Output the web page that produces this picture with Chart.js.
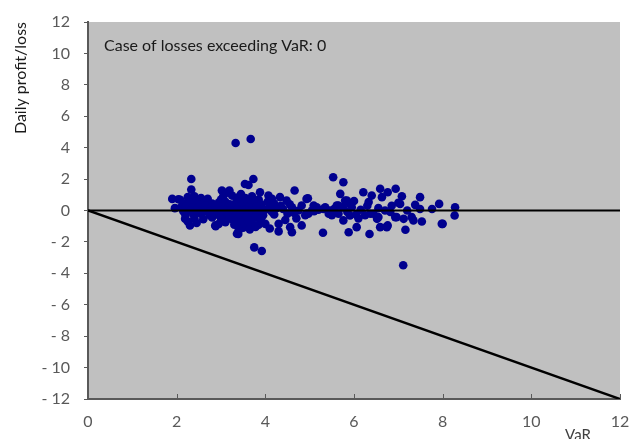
<!DOCTYPE html>
<html>
<head>
<meta charset="utf-8">
<script src="https://cdn.jsdelivr.net/npm/chart.js@4.4.1/dist/chart.umd.min.js"></script>
<style>
  html, body { margin: 0; padding: 0; background: #fff; }
  #wrap { width: 635px; height: 439px; }
</style>
</head>
<body>
<div id="wrap"><canvas id="varChart"></canvas></div>
<script>
// daily VaR (x) and daily profit/loss (y)
const varValues = [
  3.33, 3.67, 3.75, 3.92, 7.11,
  2.33, 2.33, 3.54, 3.62, 3.73, 5.53, 5.76, 4.66, 1.90, 2.08, 1.96, 2.04,
  2.19, 2.30, 2.87, 3.36, 3.02, 3.19, 3.13, 3.88, 4.07, 4.33, 4.48, 4.96, 4.82, 4.97,
  4.00, 4.30, 4.56, 4.82, 4.30, 4.60, 3.39,
  5.69, 6.21, 6.40, 6.59, 6.63, 5.80, 5.91, 5.09, 5.35, 5.61, 6.44, 6.52, 5.76, 6.06,
  6.59, 5.30, 5.88, 6.35, 6.74,
  6.76, 6.94, 7.08, 7.49, 7.00, 7.38, 7.49, 7.76, 7.92, 8.28, 8.27, 6.82, 6.93, 7.12,
  7.30, 7.34, 7.53, 8.00, 6.76, 7.16,
  4.93, 4.93, 5.05, 5.16, 5.31, 5.43, 5.65, 5.84, 5.95, 5.91, 6.33, 6.37, 6.55, 7.04,
  6.96, 7.98, 6.74,
  5.20, 5.45, 5.55, 5.65, 5.75, 5.85, 6.05, 6.15, 6.25, 6.30, 6.55, 6.70, 6.85, 7.20, 5.10, 5.50, 6.00, 6.10,
  4.40, 4.50, 4.60, 4.70, 4.75, 4.90, 4.55, 4.45, 4.35, 4.65,
  2.25, 2.40, 2.55, 2.70, 3.05, 3.25, 3.40, 3.55, 3.70, 3.85, 4.15, 3.00, 3.45, 2.65,
  2.15, 2.30, 2.45, 2.60, 2.80, 2.95, 3.10, 3.20, 3.35, 3.50, 3.60, 3.75, 3.90, 4.05, 4.20, 2.50, 3.30, 3.65,
  2.10, 2.20, 2.35, 2.50, 2.65, 2.75, 2.90, 3.00, 3.15, 3.25, 3.40, 3.50, 3.58, 3.70, 3.80, 3.95, 4.10, 4.25, 2.85, 3.45,
  2.15, 2.30, 2.45, 2.60, 2.70, 2.85, 2.95, 3.05, 3.20, 3.30, 3.42, 3.55, 3.62, 3.72, 3.85, 4.00, 4.15, 3.38, 3.48,
  2.20, 2.38, 2.55, 2.75, 2.90, 3.08, 3.22, 3.35, 3.50, 3.60, 3.68, 3.80, 3.95, 4.20, 3.15, 3.45,
  2.40, 2.60, 2.80, 3.00, 3.25, 3.40, 3.52, 3.65, 3.78, 3.90, 3.30, 3.58,
  2.45, 2.95, 3.10, 3.30, 3.45, 3.55, 3.70, 3.62, 3.85, 2.25,
  3.50, 3.65, 3.78, 2.88, 4.10, 3.40
];
const pnlValues = [
  4.30, 4.55, -2.35, -2.58, -3.49,
  2.01, 1.33, 1.69, 1.62, 2.01, 2.12, 1.80, 1.27, 0.74, 0.68, 0.15, 0.72,
  -0.53, -0.95, -0.95, -1.48, 1.27, 1.27, 1.14, 1.16, 0.95, 0.85, 0.63, 0.78, 0.32, -0.21,
  -0.85, -0.85, -1.06, -0.95, -1.33, -1.38, -1.50,
  1.06, 1.16, 0.95, 1.38, 0.85, 0.63, 0.42, 0.32, 0.21, 0.32, -0.21, -0.53, -0.63, -1.06,
  -1.06, -1.42, -1.38, -1.50, -1.06,
  1.16, 1.38, 0.91, 0.85, 0.49, 0.36, 0.10, 0.10, 0.42, 0.21, -0.32, -0.10, -0.42, -0.53,
  -0.42, -0.63, -0.70, -0.85, -0.95, -1.23,
  0.74, -0.19, 0.00, 0.21, 0.10, -0.21, 0.32, 0.63, 0.21, -0.32, 0.54, -0.21, -0.42, 0.42,
  -0.42, -0.85, -1.02,
  0.05, 0.00, 0.10, -0.20, 0.20, -0.10, -0.25, 0.05, -0.30, 0.30, 0.15, 0.00, 0.30, 0.00, -0.05, -0.30, 0.60, -0.50,
  0.10, -0.20, 0.20, -0.50, 0.00, -0.30, 0.40, -0.60, 0.30, -0.15,
  0.85, 0.90, 0.80, 0.75, 0.90, 0.95, 0.85, 0.80, 0.90, 0.70, 0.75, 0.70, 1.05, 0.60,
  0.45, 0.50, 0.55, 0.40, 0.45, 0.50, 0.55, 0.40, 0.60, 0.45, 0.55, 0.50, 0.40, 0.55, 0.45, 0.35, 0.35, 0.30,
  0.20, 0.25, 0.15, 0.20, 0.30, 0.10, 0.20, 0.25, 0.15, 0.20, 0.25, 0.10, 0.20, 0.15, 0.25, 0.10, 0.20, 0.15, 0.35, 0.30,
  -0.05, 0.00, -0.08, 0.05, -0.10, 0.00, -0.05, 0.05, -0.08, 0.00, -0.05, 0.05, -0.10, 0.00, -0.05, 0.05, -0.10, 0.08, -0.02,
  -0.30, -0.25, -0.20, -0.30, -0.25, -0.20, -0.30, -0.25, -0.35, -0.20, -0.30, -0.25, -0.30, -0.25, -0.35, -0.20,
  -0.50, -0.55, -0.45, -0.50, -0.55, -0.45, -0.60, -0.50, -0.45, -0.55, -0.65, -0.40,
  -0.80, -0.85, -0.75, -0.90, -0.80, -0.95, -0.80, -0.70, -0.90, -0.70,
  -1.10, -1.20, -1.05, -1.00, -1.15, -1.25
];
// reference lines: P/L = 0 and P/L = -VaR
const zeroLineX = [0, 12];
const zeroLineY = [0, 0];
const limitLineX = [0, 12];
const limitLineY = [0, -12];
const tickValues = [0, 2, 4, 6, 8, 10, 12];

const pts = varValues.map((v, i) => ({ x: v, y: pnlValues[i] }));
const toXY = (xs, ys) => xs.map((v, i) => ({ x: v, y: ys[i] }));

const FONT = 'Lato, "Open Sans", sans-serif';
const TICK_COLOR = '#595959';

const plotDecor = {
  id: 'plotDecor',
  beforeDraw(chart) {
    const { ctx, chartArea: a } = chart;
    ctx.save();
    ctx.fillStyle = '#c0c0c0';
    ctx.fillRect(a.left, a.top, a.right - a.left, a.bottom - a.top);
    ctx.restore();
  },
  afterDraw(chart) {
    const { ctx, chartArea: a } = chart;
    const xs = chart.scales.x;
    ctx.save();
    // x tick marks point inwards like in the original
    ctx.strokeStyle = TICK_COLOR;
    ctx.lineWidth = 1;
    tickValues.forEach(t => {
      const px = Math.round(xs.getPixelForValue(t)) + 0.5;
      ctx.beginPath();
      ctx.moveTo(px, a.bottom);
      ctx.lineTo(px, a.bottom - 5);
      ctx.stroke();
    });
    ctx.fillStyle = '#1a1a1a';
    ctx.font = '16px ' + FONT;
    ctx.textBaseline = 'middle';
    ctx.textAlign = 'left';
    ctx.fillText('Case of losses exceeding VaR: 0', a.left + 16, a.top + 24);
    ctx.fillStyle = '#404040';
    ctx.font = '15px ' + FONT;
    ctx.textAlign = 'center';
    ctx.textBaseline = 'top';
    ctx.fillText('VaR', 578, 428);
    ctx.restore();
  }
};

new Chart(document.getElementById('varChart'), {
  type: 'scatter',
  data: {
    datasets: [{
      label: 'Zero',
      data: toXY(zeroLineX, zeroLineY),
      showLine: true,
      borderColor: '#000',
      borderWidth: 2,
      pointRadius: 0,
      order: 0
    }, {
      label: '-VaR',
      data: toXY(limitLineX, limitLineY),
      showLine: true,
      borderColor: '#000',
      borderWidth: 2.5,
      pointRadius: 0,
      order: 0
    }, {
      label: 'Daily P/L',
      data: pts,
      backgroundColor: '#00008f',
      borderColor: '#00008f',
      borderWidth: 0,
      pointRadius: 4.3,
      order: 1
    }]
  },
  options: {
    responsive: true,
    maintainAspectRatio: false,
    animation: false,
    layout: { padding: { top: 22, right: 15, left: 0, bottom: 0 } },
    plugins: {
      legend: { display: false },
      tooltip: { enabled: false }
    },
    scales: {
      x: {
        type: 'linear',
        min: 0,
        max: 12,
        afterFit(s) { s.height = 40; s.paddingLeft = 0; s.paddingRight = 0; },
        afterBuildTicks(s) { s.ticks = tickValues.map(v => ({ value: v })); },
        ticks: { color: TICK_COLOR, font: { family: FONT, size: 16 }, padding: 13, maxRotation: 0 },
        grid: { display: false, drawTicks: false },
        border: { display: true, color: TICK_COLOR, width: 2 }
      },
      y: {
        min: -12,
        max: 12,
        afterFit(s) { s.width = 88; s.paddingTop = 0; s.paddingBottom = 0; },
        ticks: {
          stepSize: 2,
          color: TICK_COLOR,
          font: { family: FONT, size: 16 },
          padding: 14,
          callback: v => v < 0 ? '- ' + (-v) : String(v)
        },
        grid: { drawOnChartArea: false, drawTicks: true, tickLength: 4, color: TICK_COLOR },
        border: { display: true, color: TICK_COLOR, width: 2 },
        title: {
          display: true,
          text: 'Daily profit/loss',
          align: 'end',
          color: '#1a1a1a',
          font: { family: FONT, size: 16 },
          padding: { top: 11, bottom: 0 }
        }
      }
    }
  },
  plugins: [plotDecor]
});
</script>
</body>
</html>
